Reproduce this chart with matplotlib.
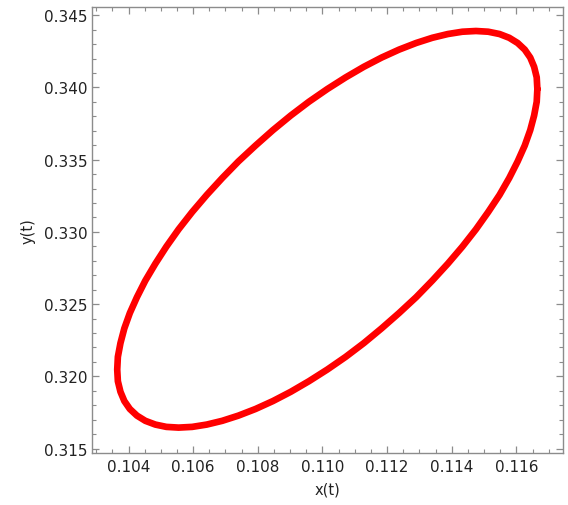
import matplotlib
matplotlib.use("Agg")
import matplotlib.pyplot as plt
from matplotlib.ticker import MultipleLocator

plt.rcParams['font.family'] = ['DejaVu Sans']

# Limit cycle in the (x, y) phase plane
x_t = [0.11665, 0.11663, 0.11655, 0.11643, 0.11626, 0.11604, 0.11578, 0.11548,
       0.11513, 0.11475, 0.11433, 0.11388, 0.11340, 0.11290, 0.11237, 0.11183,
       0.11128, 0.11072, 0.11015, 0.10958, 0.10902, 0.10847, 0.10793, 0.10740,
       0.10690, 0.10642, 0.10597, 0.10555, 0.10517, 0.10483, 0.10452, 0.10426,
       0.10404, 0.10387, 0.10375, 0.10367, 0.10365, 0.10367, 0.10375, 0.10387,
       0.10404, 0.10426, 0.10452, 0.10483, 0.10517, 0.10555, 0.10597, 0.10642,
       0.10690, 0.10740, 0.10793, 0.10847, 0.10902, 0.10958, 0.11015, 0.11072,
       0.11128, 0.11183, 0.11237, 0.11290, 0.11340, 0.11388, 0.11433, 0.11475,
       0.11513, 0.11548, 0.11578, 0.11604, 0.11626, 0.11643, 0.11655, 0.11663,
       0.11665]
y_t = [0.33989, 0.34070, 0.34143, 0.34207, 0.34262, 0.34308, 0.34344, 0.34370,
       0.34386, 0.34391, 0.34386, 0.34370, 0.34344, 0.34308, 0.34262, 0.34207,
       0.34143, 0.34070, 0.33989, 0.33901, 0.33806, 0.33705, 0.33598, 0.33488,
       0.33373, 0.33256, 0.33138, 0.33018, 0.32898, 0.32780, 0.32663, 0.32548,
       0.32438, 0.32332, 0.32230, 0.32135, 0.32047, 0.31966, 0.31893, 0.31829,
       0.31774, 0.31728, 0.31692, 0.31666, 0.31650, 0.31645, 0.31650, 0.31666,
       0.31692, 0.31728, 0.31774, 0.31829, 0.31893, 0.31966, 0.32047, 0.32135,
       0.32230, 0.32332, 0.32438, 0.32548, 0.32663, 0.32780, 0.32898, 0.33018,
       0.33138, 0.33256, 0.33373, 0.33488, 0.33598, 0.33705, 0.33806, 0.33901,
       0.33989]

x_ticks = [0.104, 0.106, 0.108, 0.110, 0.112, 0.114, 0.116]
y_ticks = [0.315, 0.320, 0.325, 0.330, 0.335, 0.340, 0.345]

fig = plt.figure(figsize=(5.68, 5.06), dpi=100)
ax = fig.add_axes([0.162, 0.103, 0.829, 0.882])

ax.plot(x_t, y_t, color='#ff0000', lw=4.8, solid_joinstyle='round',
        solid_capstyle='round')

ax.set_xlim(0.10287, 0.11744)
ax.set_ylim(0.3147, 0.3456)
ax.set_xticks(x_ticks)
ax.set_yticks(y_ticks)
ax.set_xticklabels([f"{v:.3f}" for v in x_ticks])
ax.set_yticklabels([f"{v:.3f}" for v in y_ticks])
ax.xaxis.set_minor_locator(MultipleLocator(0.0005))
ax.yaxis.set_minor_locator(MultipleLocator(0.001))

frame_col = '#8c8c8c'
for s in ax.spines.values():
    s.set_color(frame_col)
    s.set_linewidth(1.0)
ax.tick_params(which='both', direction='in', top=True, right=True,
               color=frame_col, labelcolor='#222222', labelsize=11)
ax.tick_params(which='major', length=5, width=0.9)
ax.tick_params(axis='y', which='major', pad=3.5)
ax.tick_params(axis='x', which='major', pad=4.5)
ax.tick_params(which='minor', length=3, width=0.8)

ax.set_xlabel('x(t)', fontsize=10.5, color='#222222', labelpad=5)
ax.set_ylabel('y(t)', fontsize=10.5, color='#222222', labelpad=6)

fig.savefig('out.png', dpi=100)
